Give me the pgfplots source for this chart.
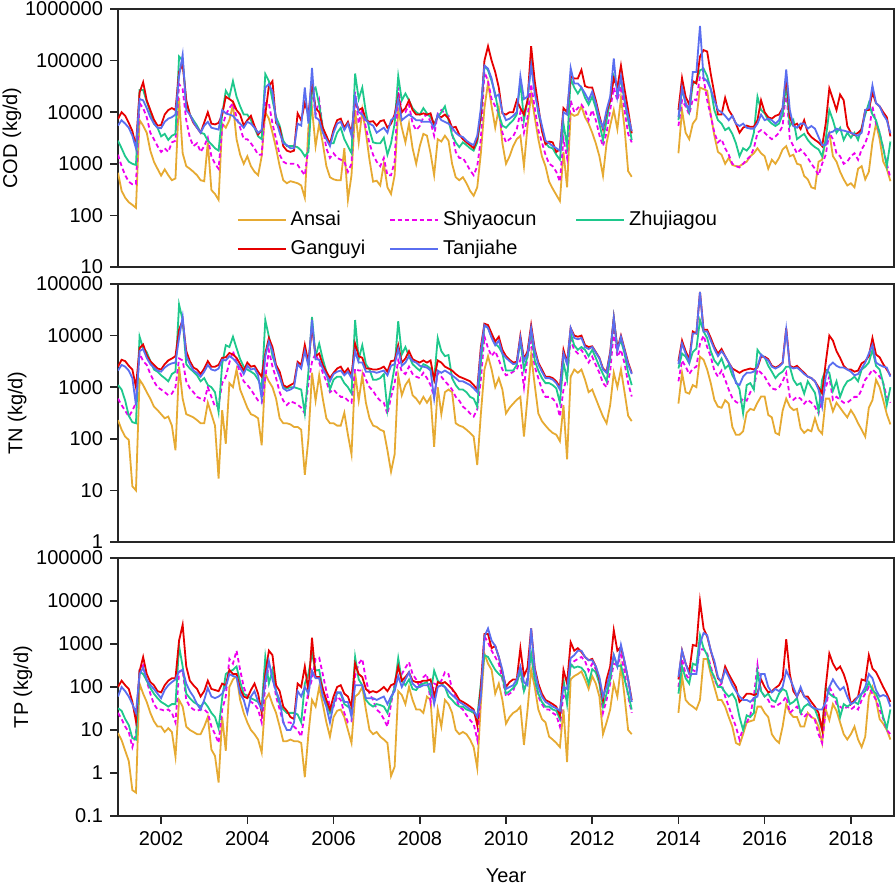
\documentclass[border=0pt]{standalone}
\usepackage{pgfplots}
\pgfplotsset{compat=1.18}
\usepackage{pgfplotstable}
\usepackage{fontspec}
\setmainfont{Liberation Sans}

\definecolor{cA}{RGB}{230,170,50}
\definecolor{cS}{RGB}{238,0,238}
\definecolor{cZ}{RGB}{30,200,140}
\definecolor{cG}{RGB}{230,0,0}
\definecolor{cT}{RGB}{90,110,240}

% monthly values, Jan 2001 .. Dec 2018, 2013 missing
% ---------- COD ----------
\pgfplotstableread[row sep=crcr]{v\\
670\\300\\220\\180\\160\\140\\7000\\5500\\4000\\1800\\1100\\800\\
590\\780\\600\\480\\520\\19000\\1600\\900\\800\\700\\600\\480\\
460\\2600\\310\\260\\200\\6000\\5000\\7000\\14000\\3000\\1500\\1000\\
1400\\900\\700\\600\\1400\\10000\\7500\\4000\\2000\\900\\480\\420\\
460\\440\\420\\380\\220\\5000\\12000\\2200\\6000\\2500\\900\\550\\
500\\480\\480\\2000\\200\\600\\11000\\2600\\11000\\4000\\1200\\450\\
470\\380\\1000\\350\\260\\600\\11000\\5000\\2600\\6000\\2000\\1000\\
2200\\3800\\3500\\1600\\600\\3000\\2700\\3500\\2800\\1000\\550\\480\\
550\\420\\300\\240\\350\\1600\\12000\\37000\\13000\\5000\\12000\\2500\\
1000\\1400\\2200\\3000\\3500\\900\\5500\\22000\\8000\\3000\\1400\\900\\
450\\330\\250\\190\\1700\\350\\9500\\8500\\9000\\13000\\8000\\6000\\
4000\\2500\\1400\\590\\2500\\5500\\11000\\4700\\19000\\5000\\720\\560\\
nan\\nan\\nan\\nan\\nan\\nan\\nan\\nan\\nan\\nan\\nan\\nan\\
1600\\11000\\4000\\3000\\6000\\7500\\30000\\28000\\26000\\9000\\3500\\1700\\
1500\\1000\\1300\\950\\900\\900\\1000\\1100\\1400\\1600\\2000\\1600\\
1400\\800\\1200\\1000\\1300\\1900\\2200\\1400\\1500\\1000\\950\\580\\
500\\350\\330\\1100\\1200\\3000\\4000\\1400\\1100\\700\\500\\380\\
420\\350\\800\\900\\500\\700\\2600\\6000\\3000\\1100\\800\\460\\}\codA

\pgfplotstableread[row sep=crcr]{v\\
1500\\900\\600\\450\\400\\400\\15000\\12000\\8000\\4000\\3000\\2200\\
1700\\2000\\1700\\2600\\2800\\35000\\28000\\7000\\3200\\2200\\2500\\1700\\
2200\\3200\\1400\\1000\\800\\5000\\9000\\12000\\15000\\8000\\5000\\3000\\
3000\\2500\\2000\\1500\\1500\\15000\\15000\\6000\\3000\\1500\\1100\\1000\\
1000\\1000\\950\\750\\600\\2000\\30000\\9000\\17000\\5000\\2000\\1300\\
1600\\1300\\1200\\1100\\700\\1000\\25000\\6000\\12000\\5000\\2500\\1500\\
1100\\900\\1300\\600\\600\\1100\\30000\\10000\\10000\\14000\\6000\\4500\\
5400\\8000\\9000\\6500\\3500\\9500\\11000\\9500\\8500\\4000\\1700\\1300\\
1300\\1000\\750\\600\\900\\3000\\60000\\40000\\18000\\13000\\9500\\4000\\
2600\\3000\\3400\\4700\\10000\\4000\\8000\\35000\\12000\\4500\\2600\\1500\\
1000\\900\\700\\450\\3000\\1300\\17000\\10000\\12000\\14000\\11000\\7000\\
11000\\7000\\3600\\2200\\4000\\11000\\30000\\17000\\32000\\11000\\3800\\2600\\
nan\\nan\\nan\\nan\\nan\\nan\\nan\\nan\\nan\\nan\\nan\\nan\\
5400\\17000\\13000\\9000\\18000\\17000\\50000\\45000\\17000\\8500\\4000\\2600\\
3000\\2000\\1500\\1000\\900\\850\\1000\\1200\\1400\\2000\\4000\\4500\\
4000\\3400\\3000\\3400\\4000\\5400\\28000\\3000\\2200\\1600\\1900\\1600\\
1300\\1000\\800\\600\\1000\\1500\\4000\\3000\\1600\\1400\\1000\\1100\\
1400\\1600\\1200\\1900\\2500\\4000\\13000\\6000\\4000\\2000\\1000\\530\\}\codS

\pgfplotstableread[row sep=crcr]{v\\
2800\\2000\\1400\\1100\\1000\\950\\27000\\27000\\16000\\10000\\6000\\5000\\
3400\\3800\\2900\\3500\\3800\\120000\\100000\\16000\\9000\\7000\\5500\\4000\\
3800\\2800\\2400\\2000\\1800\\9000\\26000\\20000\\40000\\20000\\13000\\9000\\
9000\\7000\\5000\\3400\\3000\\55000\\40000\\17000\\8000\\5500\\2800\\2200\\
2200\\2200\\2100\\1800\\1400\\1700\\25000\\30000\\14000\\5000\\3200\\2500\\
2500\\4000\\5000\\3000\\2200\\1600\\56000\\18000\\30000\\10000\\4500\\2600\\
2500\\2500\\3200\\1500\\2500\\6000\\50000\\17000\\23000\\17000\\12000\\10000\\
9000\\12000\\9500\\8000\\6000\\8000\\10000\\13000\\7000\\3600\\2600\\2100\\
2600\\2300\\2000\\1800\\2600\\8000\\80000\\65000\\40000\\23000\\9000\\5500\\
5000\\6000\\7000\\9000\\40000\\7000\\17000\\90000\\30000\\9500\\4700\\2500\\
2100\\2000\\1500\\1200\\6000\\2200\\45000\\30000\\23000\\30000\\19000\\14000\\
20000\\12000\\6000\\2900\\7000\\17000\\50000\\30000\\40000\\17000\\7000\\2900\\
nan\\nan\\nan\\nan\\nan\\nan\\nan\\nan\\nan\\nan\\nan\\nan\\
7000\\28000\\15000\\10000\\35000\\40000\\65000\\70000\\50000\\28000\\11000\\7000\\
6000\\4500\\5000\\3800\\2500\\1400\\2000\\1800\\2200\\4000\\20000\\11000\\
9500\\7000\\6000\\5400\\6000\\9000\\35000\\5400\\7000\\3000\\3400\\3800\\
2900\\2400\\2100\\1900\\1400\\3000\\11000\\7000\\4000\\5000\\2900\\4000\\
3200\\4000\\2900\\5000\\9000\\15000\\9000\\7000\\4000\\2000\\900\\2700\\}\codZ

\pgfplotstableread[row sep=crcr]{v\\
7400\\10000\\8500\\6200\\4300\\2200\\24000\\38000\\17000\\11000\\7200\\5500\\
5600\\9000\\11000\\12000\\11000\\60000\\85000\\17000\\9000\\6200\\5000\\4000\\
6300\\10000\\6000\\5800\\6200\\9000\\20000\\18000\\16000\\11000\\9000\\5500\\
7000\\8500\\5400\\3700\\4500\\9000\\32000\\40000\\6200\\5000\\2200\\1800\\
1700\\1800\\9500\\7000\\15000\\9000\\40000\\12000\\10000\\5000\\3500\\2400\\
4600\\7000\\7500\\5000\\6500\\4000\\17000\\11000\\12000\\7000\\6500\\6700\\
5500\\6700\\7000\\5000\\6000\\9000\\20000\\10000\\12000\\17000\\11000\\9000\\
9000\\9500\\9000\\9500\\5500\\8500\\8000\\9000\\7500\\5000\\5200\\3700\\
3000\\2600\\2300\\2000\\3000\\9000\\100000\\190000\\100000\\60000\\30000\\9500\\
9000\\10000\\10000\\17000\\12000\\9000\\17000\\190000\\40000\\13000\\4300\\2400\\
2700\\2600\\1700\\1900\\12000\\10000\\50000\\45000\\45000\\66000\\32000\\30000\\
30000\\17000\\8500\\4700\\10000\\17000\\45000\\30000\\80000\\28000\\11000\\3900\\
nan\\nan\\nan\\nan\\nan\\nan\\nan\\nan\\nan\\nan\\nan\\nan\\
11000\\46000\\20000\\14000\\40000\\36000\\120000\\160000\\150000\\55000\\23000\\9000\\
9000\\19000\\11000\\8500\\6000\\4000\\5000\\5500\\5200\\5200\\7000\\17000\\
10000\\8000\\7500\\8500\\9000\\12000\\50000\\8000\\5500\\6000\\4700\\7000\\
4000\\3300\\2900\\2600\\2200\\6000\\29000\\18000\\11000\\22000\\17000\\5400\\
4000\\3600\\4000\\4700\\11000\\11000\\24000\\15000\\13000\\10000\\8000\\3400\\}\codG

\pgfplotstableread[row sep=crcr]{v\\
5500\\7000\\6000\\5000\\3500\\2000\\18000\\17000\\12000\\8000\\6000\\5000\\
4900\\6500\\7500\\8000\\9000\\50000\\130000\\11000\\9000\\6500\\5000\\4000\\
5500\\6500\\5000\\4800\\4600\\11000\\9500\\9000\\8500\\7000\\6000\\5000\\
6500\\6000\\5000\\4000\\4500\\30000\\35000\\25000\\7000\\4000\\2500\\2300\\
2000\\2000\\6000\\5500\\30000\\6000\\72000\\8000\\7000\\4000\\3000\\2200\\
4000\\6000\\6500\\4500\\6000\\3500\\20000\\10000\\9000\\7000\\6000\\5500\\
4000\\4500\\5000\\4000\\7000\\8000\\18000\\7000\\8000\\9000\\8000\\7000\\
7000\\6500\\6500\\6500\\5000\\9000\\7000\\6500\\6000\\5000\\4000\\3500\\
3300\\2800\\2500\\2300\\3500\\12000\\80000\\70000\\45000\\20000\\22000\\10000\\
7000\\7500\\8500\\10000\\50000\\18000\\20000\\80000\\23000\\11000\\5500\\2800\\
2500\\2200\\2000\\1800\\10000\\9000\\72000\\36000\\36000\\30000\\23000\\17000\\
25000\\15000\\7500\\5000\\11000\\20000\\110000\\20000\\50000\\17000\\8500\\4300\\
nan\\nan\\nan\\nan\\nan\\nan\\nan\\nan\\nan\\nan\\nan\\nan\\
8000\\30000\\15000\\11000\\60000\\60000\\470000\\46000\\40000\\28000\\17000\\11000\\
10000\\8500\\7000\\8500\\6000\\5400\\6000\\5000\\4800\\4800\\6000\\9000\\
7000\\7500\\7000\\6000\\7000\\12000\\67000\\11000\\5400\\5000\\6000\\6000\\
4800\\5400\\4800\\3300\\2300\\2300\\4000\\4200\\4800\\4500\\4400\\4200\\
4000\\3700\\3500\\4000\\11000\\12000\\33000\\15000\\13000\\9000\\7000\\3900\\}\codT

% ---------- TN ----------
\pgfplotstableread[row sep=crcr]{v\\
230\\150\\110\\95\\12\\10\\1400\\1100\\800\\600\\420\\360\\
300\\250\\270\\180\\60\\2500\\600\\300\\280\\260\\230\\200\\
200\\500\\300\\180\\17\\360\\80\\1200\\1000\\2200\\900\\600\\
400\\300\\280\\250\\75\\1800\\1300\\1000\\600\\250\\200\\200\\
190\\170\\170\\150\\20\\100\\1900\\550\\1700\\600\\250\\200\\
200\\180\\180\\320\\120\\50\\1900\\550\\1700\\500\\250\\180\\
170\\150\\140\\60\\23\\50\\1700\\700\\1100\\1400\\700\\600\\
480\\650\\500\\650\\70\\1000\\300\\800\\900\\800\\200\\180\\
170\\150\\130\\110\\31\\300\\2200\\4000\\2200\\1000\\1500\\900\\
310\\400\\480\\570\\650\\110\\650\\4200\\1100\\310\\220\\180\\
150\\130\\120\\90\\450\\40\\1600\\2200\\1900\\2200\\1400\\800\\
900\\600\\400\\270\\200\\450\\1900\\1000\\2200\\800\\280\\220\\
nan\\nan\\nan\\nan\\nan\\nan\\nan\\nan\\nan\\nan\\nan\\nan\\
480\\1900\\800\\750\\1100\\1000\\3900\\3400\\2200\\1200\\570\\420\\
400\\560\\480\\170\\120\\120\\140\\320\\380\\360\\500\\660\\
660\\290\\260\\130\\120\\350\\600\\420\\360\\380\\160\\130\\
150\\140\\250\\150\\125\\600\\600\\340\\500\\400\\320\\260\\
360\\280\\200\\150\\110\\400\\560\\1400\\1000\\560\\300\\190\\}\tnA

\pgfplotstableread[row sep=crcr]{v\\
600\\450\\350\\270\\350\\500\\4500\\3200\\2700\\1800\\1300\\1000\\
900\\800\\700\\750\\1000\\3600\\3300\\1300\\950\\800\\650\\600\\
550\\1000\\650\\420\\450\\1200\\1600\\3000\\5000\\3000\\1900\\1300\\
1100\\900\\700\\550\\500\\1500\\5200\\2500\\1500\\800\\550\\450\\
530\\500\\460\\400\\310\\1200\\3100\\4500\\3000\\1900\\1300\\800\\
900\\750\\650\\650\\550\\500\\2300\\2100\\2100\\1400\\1000\\850\\
650\\550\\500\\300\\650\\1200\\3300\\2000\\1800\\2500\\1800\\1600\\
1500\\1900\\1500\\1100\\650\\1900\\1600\\1300\\1100\\900\\650\\550\\
420\\370\\310\\270\\370\\1400\\9600\\5700\\4000\\5000\\3400\\2200\\
1700\\1800\\2000\\2200\\3400\\1000\\4000\\7700\\2500\\1500\\900\\650\\
650\\600\\500\\270\\900\\1600\\8300\\5300\\4500\\5300\\4000\\3000\\
3900\\2700\\1900\\1200\\1000\\2000\\12000\\3900\\5300\\2900\\1200\\660\\
nan\\nan\\nan\\nan\\nan\\nan\\nan\\nan\\nan\\nan\\nan\\nan\\
1300\\3300\\2500\\1800\\2300\\2500\\7000\\10000\\6000\\3900\\2100\\1600\\
2100\\1400\\900\\620\\520\\480\\600\\550\\800\\1000\\2200\\1900\\
1600\\1200\\950\\900\\1000\\1300\\1900\\650\\570\\650\\600\\480\\
570\\500\\420\\310\\650\\1000\\1600\\570\\650\\570\\500\\500\\
570\\650\\650\\900\\1400\\1700\\2200\\1900\\1600\\1200\\650\\500\\}\tnS

\pgfplotstableread[row sep=crcr]{v\\
1100\\900\\550\\280\\210\\200\\9600\\5700\\4800\\3200\\2200\\2000\\
1700\\1500\\1300\\1800\\2000\\40000\\20000\\2800\\2300\\2000\\1700\\1300\\
1500\\1100\\1000\\800\\330\\2800\\6500\\6000\\9500\\5700\\3500\\2500\\
2200\\2000\\1800\\1400\\1000\\20000\\9600\\4000\\2500\\1600\\1000\\950\\
1000\\1000\\950\\900\\310\\2000\\23000\\4000\\7000\\3500\\2000\\900\\
1400\\1600\\1600\\1200\\1000\\760\\20000\\3500\\6500\\2800\\2200\\1400\\
1400\\1500\\1800\\360\\1000\\2500\\19000\\4300\\6000\\4000\\2800\\2400\\
2100\\2800\\2600\\2300\\1400\\9000\\5000\\4000\\4200\\1500\\1100\\900\\
900\\800\\650\\600\\420\\3000\\16000\\14000\\9600\\7000\\6000\\4500\\
2100\\2100\\2100\\2700\\8000\\2200\\4000\\13000\\3300\\2100\\1500\\1200\\
1200\\1100\\950\\500\\3000\\1400\\11000\\6500\\5300\\6000\\5300\\4000\\
5300\\3700\\2500\\1800\\1300\\3700\\22000\\5700\\8000\\4500\\1900\\1100\\
nan\\nan\\nan\\nan\\nan\\nan\\nan\\nan\\nan\\nan\\nan\\nan\\
2300\\4500\\3900\\2900\\4800\\5600\\20000\\12000\\9000\\5000\\3300\\2700\\
3600\\2300\\2700\\1700\\1300\\900\\310\\1100\\1200\\900\\5300\\4200\\
3800\\2600\\2000\\1500\\1800\\2000\\2500\\2500\\1400\\1100\\1200\\750\\
1300\\1000\\780\\340\\1400\\2200\\1900\\850\\1300\\650\\1000\\1300\\
1400\\1600\\1300\\2200\\2500\\3000\\5300\\2600\\2200\\1200\\450\\1000\\}\tnZ

\pgfplotstableread[row sep=crcr]{v\\
2500\\3400\\3200\\2600\\2200\\1000\\5700\\6700\\4200\\3200\\2700\\2300\\
2200\\2800\\3300\\3600\\4000\\13000\\20000\\5000\\3200\\2400\\2200\\1800\\
2300\\3200\\2500\\2500\\2700\\3700\\3800\\4600\\4300\\3700\\2800\\2100\\
3000\\2500\\2600\\2000\\1600\\4500\\9000\\6000\\2700\\2000\\1100\\1000\\
1100\\1200\\3100\\2700\\6600\\3000\\15000\\4000\\4500\\2700\\2000\\1500\\
1900\\2300\\2500\\1900\\2300\\1700\\7000\\4000\\3700\\2300\\2300\\2200\\
2200\\2300\\2500\\2000\\3200\\3300\\6500\\3000\\3600\\5000\\3500\\3200\\
3000\\3300\\3000\\3300\\1400\\3300\\3000\\2500\\2300\\2100\\1800\\1600\\
1500\\1400\\1300\\1100\\900\\6000\\17000\\16000\\11000\\7700\\9500\\5300\\
4000\\3400\\3000\\3100\\10000\\3500\\5000\\16000\\5500\\3000\\2200\\1600\\
1600\\1500\\1300\\1000\\5300\\3000\\14000\\10000\\9500\\10000\\6500\\6000\\
6200\\4800\\3700\\2300\\2000\\4800\\22000\\5500\\10000\\5500\\3000\\1900\\
nan\\nan\\nan\\nan\\nan\\nan\\nan\\nan\\nan\\nan\\nan\\nan\\
3200\\8000\\5000\\3500\\12000\\11000\\70000\\13000\\13000\\9000\\6000\\4500\\
5500\\4000\\3000\\2300\\2100\\1900\\2100\\2200\\2300\\2200\\2400\\3900\\
3900\\3500\\2600\\2400\\2600\\3000\\14000\\2600\\2400\\2600\\2200\\1900\\
1600\\1500\\1300\\1000\\760\\3000\\10000\\8000\\5000\\3700\\2600\\2200\\
2200\\2000\\2100\\2900\\3200\\4000\\9000\\4300\\3800\\2800\\2200\\1700\\}\tnG

\pgfplotstableread[row sep=crcr]{v\\
2100\\2700\\2500\\2100\\1500\\450\\5000\\5500\\3700\\2800\\2400\\2100\\
2000\\2400\\2700\\2900\\3000\\9000\\23000\\4000\\2800\\2100\\1900\\1600\\
2000\\2700\\2200\\2100\\2300\\3400\\3300\\4000\\3600\\3000\\2400\\1800\\
2600\\2200\\2300\\1700\\600\\4000\\7700\\5000\\2400\\1600\\950\\850\\
900\\1000\\2800\\2300\\5000\\2600\\20000\\3500\\3400\\2300\\1700\\1300\\
1800\\2000\\2100\\1700\\2000\\1500\\5000\\3000\\3000\\2000\\2000\\2000\\
1900\\2000\\2100\\1700\\2600\\2800\\5500\\2600\\3000\\4000\\3200\\3000\\
2600\\2500\\2400\\2100\\600\\2100\\1900\\2100\\1900\\1700\\1500\\1300\\
1300\\1200\\1100\\950\\800\\5000\\16000\\14000\\9000\\6500\\8000\\4500\\
3700\\3200\\2800\\2900\\9000\\3200\\4500\\14000\\5000\\2800\\2000\\1500\\
1500\\1400\\1200\\900\\4500\\2800\\14000\\9000\\8500\\9000\\6000\\5500\\
6000\\4700\\3600\\2200\\1900\\4500\\22000\\5000\\9500\\5200\\2800\\1800\\
nan\\nan\\nan\\nan\\nan\\nan\\nan\\nan\\nan\\nan\\nan\\nan\\
2800\\7000\\4500\\3000\\11000\\11000\\70000\\12000\\12000\\8000\\5500\\4000\\
5000\\4000\\3000\\2200\\1200\\1100\\1600\\1900\\1900\\2000\\2500\\4300\\
3700\\3300\\2500\\2300\\2500\\2900\\13000\\2500\\2300\\2400\\2100\\1800\\
1600\\1500\\1300\\900\\420\\1600\\2600\\3000\\2600\\2400\\2400\\2200\\
2000\\1700\\1800\\2300\\3000\\4500\\6600\\3000\\2700\\2500\\2400\\1600\\}\tnT

% ---------- TP ----------
\pgfplotstableread[row sep=crcr]{v\\
8.5\\5.8\\3.3\\1.9\\0.4\\0.35\\120\\70\\45\\25\\16\\12\\
12\\9\\11\\9\\2.4\\50\\35\\12\\10\\9\\8\\8\\
12\\20\\3.5\\2.5\\0.6\\20\\3.3\\100\\150\\180\\50\\25\\
15\\10\\8\\6\\3\\50\\70\\40\\25\\12\\5.5\\5.5\\
6\\5.5\\5.5\\5\\0.8\\8\\50\\35\\100\\40\\15\\7\\
20\\28\\30\\20\\10\\5\\60\\70\\100\\30\\10\\8\\
9\\7\\6\\5\\0.85\\1.4\\80\\65\\40\\100\\50\\30\\
30\\25\\60\\50\\3\\30\\12\\50\\40\\25\\10\\8\\
9\\8\\6\\4\\1.3\\40\\600\\350\\250\\70\\120\\50\\
14\\20\\25\\28\\35\\4.5\\30\\250\\100\\30\\18\\15\\
7\\6\\5\\4\\30\\1.8\\150\\180\\200\\230\\150\\90\\
180\\120\\60\\8\\15\\30\\120\\60\\300\\60\\10\\8\\
nan\\nan\\nan\\nan\\nan\\nan\\nan\\nan\\nan\\nan\\nan\\nan\\
25\\180\\50\\40\\35\\30\\50\\450\\450\\200\\100\\50\\
50\\35\\20\\12\\5\\4.5\\8\\15\\16\\17\\35\\35\\
25\\20\\8\\6\\5\\12\\40\\25\\20\\20\\12\\12\\
25\\20\\18\\12\\5\\30\\17\\40\\28\\15\\8\\6\\
8\\12\\6\\4\\7\\60\\100\\50\\18\\14\\10\\6\\}\tpA

\pgfplotstableread[row sep=crcr]{v\\
25\\18\\12\\9\\4\\8\\250\\320\\140\\70\\40\\30\\
30\\28\\30\\25\\15\\220\\250\\50\\35\\30\\28\\30\\
30\\25\\12\\8\\5\\30\\60\\450\\350\\700\\250\\100\\
60\\45\\40\\30\\15\\100\\330\\200\\60\\30\\15\\15\\
15\\12\\10\\7\\25\\80\\150\\450\\480\\200\\80\\35\\
35\\60\\50\\25\\15\\16\\180\\350\\450\\150\\70\\50\\
30\\25\\18\\12\\40\\120\\300\\200\\280\\380\\200\\150\\
100\\170\\200\\45\\120\\110\\140\\220\\200\\90\\55\\35\\
30\\22\\17\\14\\6\\70\\1500\\1100\\700\\500\\350\\150\\
60\\70\\80\\150\\200\\80\\170\\600\\150\\60\\40\\30\\
30\\25\\22\\12\\70\\50\\300\\400\\450\\500\\400\\240\\
350\\260\\150\\25\\50\\120\\350\\320\\550\\230\\60\\25\\
nan\\nan\\nan\\nan\\nan\\nan\\nan\\nan\\nan\\nan\\nan\\nan\\
100\\450\\200\\150\\250\\220\\750\\750\\600\\300\\150\\100\\
120\\60\\35\\20\\12\\6\\11\\15\\22\\60\\330\\80\\
60\\50\\35\\35\\40\\45\\60\\25\\30\\35\\25\\20\\
25\\20\\17\\8\\5\\30\\100\\70\\40\\35\\30\\35\\
30\\35\\30\\50\\70\\100\\70\\50\\30\\18\\10\\8\\}\tpS

\pgfplotstableread[row sep=crcr]{v\\
32\\28\\18\\13\\6.5\\6\\230\\200\\140\\95\\70\\55\\
45\\40\\35\\40\\40\\900\\300\\70\\55\\45\\40\\35\\
45\\35\\25\\20\\11\\55\\200\\230\\250\\300\\130\\70\\
60\\55\\50\\45\\35\\500\\120\\250\\80\\40\\30\\25\\
25\\25\\23\\15\\120\\200\\600\\240\\250\\90\\40\\25\\
40\\75\\70\\40\\35\\30\\500\\150\\110\\50\\40\\35\\
40\\38\\35\\25\\50\\100\\470\\140\\110\\150\\90\\85\\
110\\120\\130\\70\\240\\140\\120\\100\\60\\50\\40\\35\\
35\\30\\28\\25\\20\\120\\550\\500\\350\\250\\200\\170\\
70\\80\\95\\120\\250\\80\\150\\600\\150\\70\\45\\35\\
35\\30\\28\\18\\150\\40\\340\\280\\300\\280\\220\\120\\
260\\220\\120\\35\\70\\150\\550\\300\\320\\150\\70\\30\\
nan\\nan\\nan\\nan\\nan\\nan\\nan\\nan\\nan\\nan\\nan\\nan\\
70\\300\\160\\120\\350\\320\\1600\\800\\550\\250\\170\\100\\
100\\75\\60\\70\\50\\20\\10\\22\\20\\25\\230\\80\\
60\\70\\50\\45\\70\\90\\80\\40\\45\\55\\25\\35\\
40\\35\\30\\18\\10\\100\\70\\60\\55\\20\\40\\35\\
40\\45\\40\\70\\80\\130\\85\\70\\45\\20\\11\\30\\}\tpZ

\pgfplotstableread[row sep=crcr]{v\\
100\\140\\110\\90\\45\\16\\230\\500\\200\\130\\110\\80\\
75\\110\\140\\160\\160\\1200\\2800\\300\\140\\110\\90\\60\\
80\\140\\90\\85\\80\\120\\110\\250\\200\\200\\90\\60\\
55\\85\\120\\70\\25\\200\\700\\550\\110\\80\\35\\28\\
20\\18\\120\\100\\300\\80\\1400\\170\\170\\90\\50\\30\\
60\\100\\110\\70\\60\\35\\350\\200\\170\\90\\75\\80\\
75\\85\\100\\80\\110\\120\\300\\140\\170\\220\\140\\130\\
130\\140\\140\\150\\60\\130\\120\\130\\110\\90\\70\\50\\
45\\40\\35\\30\\13\\100\\1700\\1700\\800\\900\\500\\220\\
100\\130\\150\\150\\800\\180\\280\\2300\\280\\120\\70\\50\\
45\\40\\35\\22\\250\\120\\1100\\700\\800\\650\\500\\420\\
450\\300\\150\\50\\150\\300\\2100\\700\\850\\380\\150\\50\\
nan\\nan\\nan\\nan\\nan\\nan\\nan\\nan\\nan\\nan\\nan\\nan\\
150\\700\\350\\220\\950\\900\\10000\\2300\\1500\\700\\350\\160\\
130\\300\\200\\140\\100\\45\\55\\70\\70\\65\\70\\150\\
100\\75\\80\\95\\110\\160\\1300\\200\\80\\60\\90\\60\\
60\\45\\35\\25\\10\\100\\600\\350\\250\\300\\200\\110\\
40\\50\\60\\150\\140\\550\\270\\220\\150\\100\\70\\45\\}\tpG

\pgfplotstableread[row sep=crcr]{v\\
60\\100\\80\\60\\40\\25\\200\\280\\150\\110\\90\\70\\
55\\85\\110\\130\\150\\230\\250\\120\\80\\60\\40\\30\\
50\\95\\60\\55\\60\\70\\100\\200\\180\\170\\70\\50\\
25\\60\\80\\45\\30\\140\\400\\150\\80\\50\\15\\10\\
10\\15\\80\\60\\100\\70\\240\\160\\160\\60\\35\\15\\
40\\75\\75\\45\\45\\20\\110\\110\\110\\55\\55\\55\\
50\\55\\60\\40\\60\\80\\180\\100\\150\\220\\120\\100\\
100\\110\\110\\120\\40\\100\\110\\100\\80\\65\\55\\45\\
40\\35\\30\\28\\20\\60\\1500\\2300\\1200\\900\\500\\250\\
90\\100\\110\\150\\300\\130\\110\\2300\\250\\100\\60\\45\\
40\\35\\32\\28\\100\\90\\470\\550\\700\\700\\500\\420\\
420\\300\\170\\60\\100\\220\\550\\300\\950\\400\\150\\45\\
nan\\nan\\nan\\nan\\nan\\nan\\nan\\nan\\nan\\nan\\nan\\nan\\
170\\700\\350\\200\\200\\200\\1000\\1800\\1600\\700\\400\\170\\
130\\250\\170\\110\\80\\60\\50\\50\\45\\55\\60\\200\\
200\\100\\75\\90\\80\\100\\240\\160\\100\\60\\100\\60\\
50\\35\\32\\30\\30\\45\\100\\150\\110\\85\\100\\60\\
40\\45\\60\\70\\100\\200\\160\\85\\60\\65\\60\\35\\}\tpT

\tikzset{
  sA/.style={color=cA, line width=0.9pt},
  sS/.style={color=cS, line width=0.9pt, dash pattern=on 2.2pt off 1.5pt},
  sZ/.style={color=cZ, line width=0.9pt},
  sG/.style={color=cG, line width=0.9pt},
  sT/.style={color=cT, line width=0.9pt},
}

\begin{document}
\begin{tikzpicture}
\begin{axis}[at={(0,0)}, anchor=north west,
    scale only axis, width=388pt, height=129pt,
    ymode=log, xmin=2001, xmax=2019,
    axis line style={line width=0.8pt, black!85},
    tick pos=left, tick align=outside, major tick length=4pt,
    tick style={line width=0.8pt, black!85},
    yminorticks=false, xminorticks=false,
    unbounded coords=jump,
    ymin=10, ymax=1000000,
    ytick={10,100,1000,10000,100000,1000000},
    yticklabels={10,100,1000,10000,100000,1000000},
    xtick=\empty,
    ylabel={COD (kg/d)},
    ylabel style={at={(axis description cs:-0.1366,0.5)}, anchor=center},
    legend columns=3,
    legend style={draw=none, fill=none, at={(0.145,0.25)}, anchor=north west,
      row sep=2pt,
      /tikz/column 2/.style={column sep=10pt},
      /tikz/column 4/.style={column sep=17.5pt}},
    legend image code/.code={\draw[#1] (0pt,0pt) -- (24pt,0pt);},
    legend cell align=left]
\addplot[sA] table[x expr=2001+\coordindex/12, y=v]{\codA}; \addlegendentry{Ansai}
\addplot[sS] table[x expr=2001+\coordindex/12, y=v]{\codS}; \addlegendentry{Shiyaocun}
\addplot[sZ] table[x expr=2001+\coordindex/12, y=v]{\codZ}; \addlegendentry{Zhujiagou}
\addplot[sG] table[x expr=2001+\coordindex/12, y=v]{\codG}; \addlegendentry{Ganguyi}
\addplot[sT] table[x expr=2001+\coordindex/12, y=v]{\codT}; \addlegendentry{Tanjiahe}
\end{axis}

\begin{axis}[at={(0,-137.5pt)}, anchor=north west,
    scale only axis, width=388pt, height=129pt,
    ymode=log, xmin=2001, xmax=2019,
    axis line style={line width=0.8pt, black!85},
    tick pos=left, tick align=outside, major tick length=4pt,
    tick style={line width=0.8pt, black!85},
    yminorticks=false, xminorticks=false,
    unbounded coords=jump,
    ymin=1, ymax=100000,
    ytick={1,10,100,1000,10000,100000},
    yticklabels={1,10,100,1000,10000,100000},
    xtick=\empty,
    ylabel={TN (kg/d)},
    ylabel style={at={(axis description cs:-0.130,0.5)}, anchor=center}]
\addplot[sA] table[x expr=2001+\coordindex/12, y=v]{\tnA};
\addplot[sS] table[x expr=2001+\coordindex/12, y=v]{\tnS};
\addplot[sZ] table[x expr=2001+\coordindex/12, y=v]{\tnZ};
\addplot[sG] table[x expr=2001+\coordindex/12, y=v]{\tnG};
\addplot[sT] table[x expr=2001+\coordindex/12, y=v]{\tnT};
\end{axis}

\begin{axis}[at={(0,-274.5pt)}, anchor=north west,
    scale only axis, width=388pt, height=129pt,
    ymode=log, xmin=2001, xmax=2019,
    axis line style={line width=0.8pt, black!85},
    tick pos=left, tick align=outside, major tick length=4pt,
    tick style={line width=0.8pt, black!85},
    yminorticks=false, xminorticks=false,
    unbounded coords=jump,
    ymin=0.1, ymax=100000,
    ytick={0.1,1,10,100,1000,10000,100000},
    yticklabels={0.1,1,10,100,1000,10000,100000},
    xtick={2002,2004,2006,2008,2010,2012,2014,2016,2018},
    xticklabels={2002,2004,2006,2008,2010,2012,2014,2016,2018},
    ylabel={TP (kg/d)},
    ylabel style={at={(axis description cs:-0.1224,0.5)}, anchor=center},
    xlabel={Year},
    xlabel style={at={(axis description cs:0.5,-0.2326)}, anchor=center}]
\addplot[sA] table[x expr=2001+\coordindex/12, y=v]{\tpA};
\addplot[sS] table[x expr=2001+\coordindex/12, y=v]{\tpS};
\addplot[sZ] table[x expr=2001+\coordindex/12, y=v]{\tpZ};
\addplot[sG] table[x expr=2001+\coordindex/12, y=v]{\tpG};
\addplot[sT] table[x expr=2001+\coordindex/12, y=v]{\tpT};
\end{axis}
\pgfresetboundingbox
\path (-59pt,4.5pt) rectangle (389pt,-439pt);
\end{tikzpicture}
\end{document}
